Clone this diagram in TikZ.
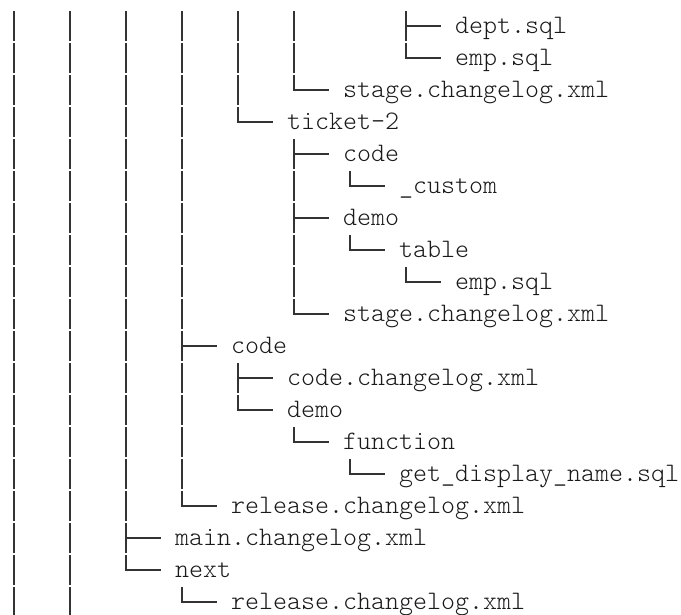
\documentclass[tikz,border=0pt]{standalone}
\usepackage{fontspec}
\setmonofont{Latin Modern Mono Light}
\definecolor{ink}{HTML}{1A1A1A}
\definecolor{treeink}{HTML}{333333}
\tikzset{
  treeline/.style={draw=treeink, line width=1.5pt, line cap=butt, line join=miter},
  entry/.style={anchor=base west, inner sep=0pt, outer sep=0pt, text=ink,
                font=\fontsize{20pt}{24pt}\ttfamily}
}
% vertical bar of one row at a level
\newcommand\tbar[2]{\draw[treeline] ({14+56*#1},{11+32*#2}) -- ({14+56*#1},{41+32*#2});}
% tee connector: level, row, node name, text
\newcommand\ttee[4]{%
  \node[entry] (#3) at ({63+56*#1},{33+32*#2}) {#4};
  \coordinate (#3-c) at ({14+56*#1},{25.5+32*#2});
  \draw[treeline] ({14+56*#1},{11+32*#2}) -- ({14+56*#1},{41+32*#2});
  \draw[treeline] (#3-c) -- ++(35,0);}
% ell connector: level, row, node name, text
\newcommand\tell[4]{%
  \node[entry] (#3) at ({63+56*#1},{33+32*#2}) {#4};
  \coordinate (#3-c) at ({14+56*#1},{25.5+32*#2});
  \draw[treeline] ({14+56*#1},{11+32*#2}) -- (#3-c) -- ++(35,0);}
\begin{document}
\begin{tikzpicture}[x=0.75pt,y=-0.75pt]
\useasboundingbox (0,0) rectangle (681,614);
\fill[white] (0,0) rectangle (681,614);
% rows
\foreach \l in {0,...,5} {\tbar{\l}{0}}
\ttee{7}{0}{dept}{dept.sql}
\foreach \l in {0,...,5} {\tbar{\l}{1}}
\tell{7}{1}{emp1}{emp.sql}
\foreach \l in {0,...,4} {\tbar{\l}{2}}
\tell{5}{2}{stage1}{stage.changelog.xml}
\foreach \l in {0,...,3} {\tbar{\l}{3}}
\tell{4}{3}{ticket}{ticket-2}
\foreach \l in {0,...,3} {\tbar{\l}{4}}
\ttee{5}{4}{code1}{code}
\foreach \l in {0,1,2,3,5} {\tbar{\l}{5}}
\tell{6}{5}{custom}{\_custom}
\foreach \l in {0,...,3} {\tbar{\l}{6}}
\ttee{5}{6}{demo1}{demo}
\foreach \l in {0,1,2,3,5} {\tbar{\l}{7}}
\tell{6}{7}{table}{table}
\foreach \l in {0,1,2,3,5} {\tbar{\l}{8}}
\tell{7}{8}{emp2}{emp.sql}
\foreach \l in {0,...,3} {\tbar{\l}{9}}
\tell{5}{9}{stage2}{stage.changelog.xml}
\foreach \l in {0,...,2} {\tbar{\l}{10}}
\ttee{3}{10}{code2}{code}
\foreach \l in {0,...,3} {\tbar{\l}{11}}
\ttee{4}{11}{codelog}{code.changelog.xml}
\foreach \l in {0,...,3} {\tbar{\l}{12}}
\tell{4}{12}{demo2}{demo}
\foreach \l in {0,...,3} {\tbar{\l}{13}}
\tell{5}{13}{function}{function}
\foreach \l in {0,...,3} {\tbar{\l}{14}}
\tell{6}{14}{getname}{get\_display\_name.sql}
\foreach \l in {0,...,2} {\tbar{\l}{15}}
\tell{3}{15}{release1}{release.changelog.xml}
\foreach \l in {0,1} {\tbar{\l}{16}}
\ttee{2}{16}{main}{main.changelog.xml}
\foreach \l in {0,1} {\tbar{\l}{17}}
\tell{2}{17}{next}{next}
\foreach \l in {0,1} {\tbar{\l}{18}}
\tell{3}{18}{release2}{release.changelog.xml}
\end{tikzpicture}
\end{document}
